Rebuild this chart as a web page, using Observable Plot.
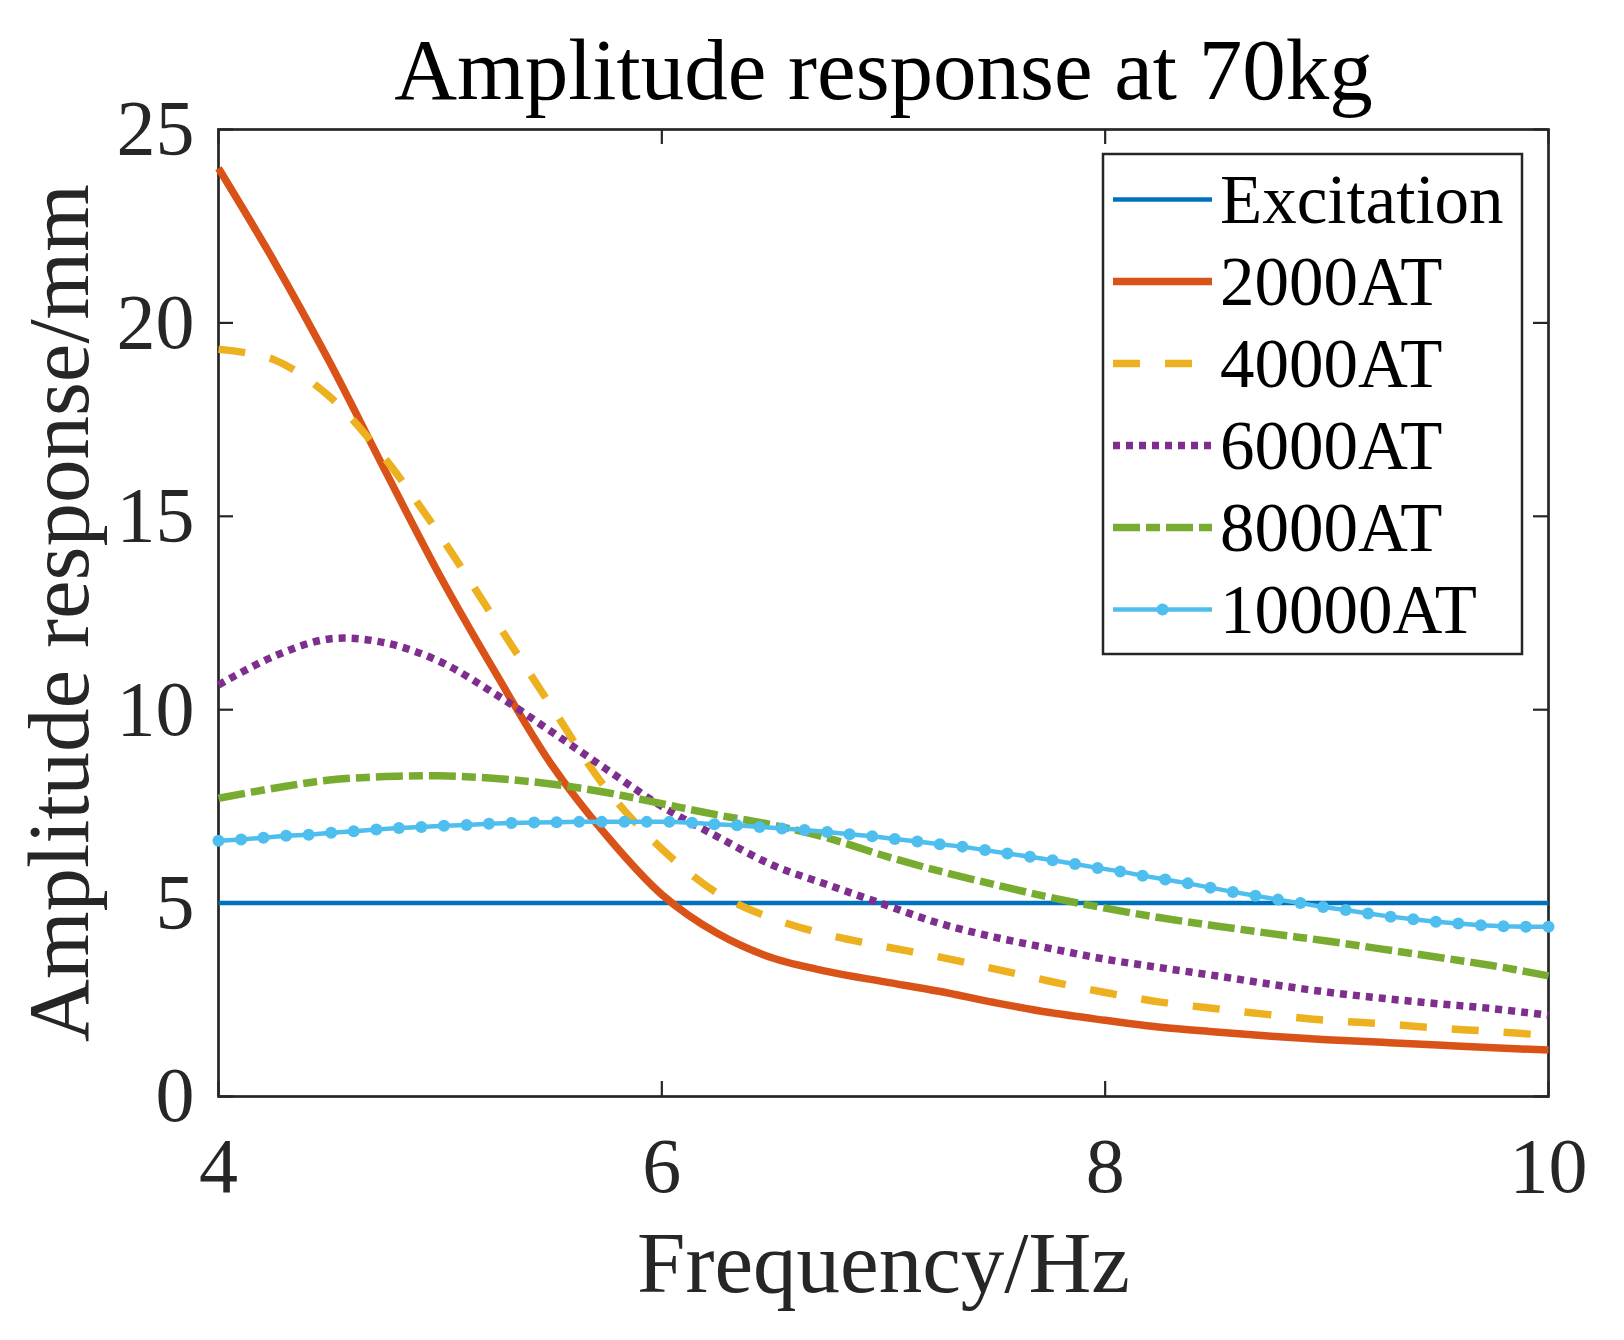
<!DOCTYPE html>
<html>
<head>
<meta charset="utf-8">
<script src="https://cdn.jsdelivr.net/npm/d3@7"></script>
<script src="https://cdn.jsdelivr.net/npm/@observablehq/plot@0.6"></script>
<style>
  body { margin: 0; background: #fff; }
  #chart svg { display: block; }
</style>
</head>
<body>
<div id="chart"></div>
<script>
// datos
const freqCoarse = [4, 4.25, 4.5, 4.75, 5, 5.25, 5.5, 5.75, 6, 6.25, 6.5, 6.75, 7, 7.25, 7.5, 7.75, 8, 8.25, 8.5, 8.75, 9, 9.25, 9.5, 9.75, 10];
const amp2000 = [24.0, 21.6, 19.0, 16.2, 13.45, 10.95, 8.6, 6.75, 5.22, 4.22, 3.58, 3.23, 2.97, 2.72, 2.43, 2.17, 1.97, 1.79, 1.67, 1.56, 1.47, 1.40, 1.33, 1.26, 1.2];
const amp4000 = [19.32, 19.05, 18.1, 16.5, 14.5, 12.3, 10.1, 7.95, 6.4, 5.26, 4.6, 4.18, 3.88, 3.61, 3.3, 2.98, 2.69, 2.44, 2.27, 2.11, 1.97, 1.88, 1.77, 1.68, 1.58];
const amp6000 = [10.64, 11.38, 11.83, 11.73, 11.24, 10.4, 9.44, 8.46, 7.5, 6.72, 5.98, 5.47, 4.97, 4.48, 4.12, 3.83, 3.55, 3.33, 3.12, 2.9, 2.7, 2.54, 2.4, 2.27, 2.1];
const amp8000 = [7.71, 7.97, 8.18, 8.27, 8.29, 8.22, 8.08, 7.86, 7.57, 7.28, 7.02, 6.68, 6.23, 5.83, 5.48, 5.15, 4.87, 4.62, 4.41, 4.21, 4.02, 3.81, 3.6, 3.38, 3.12];

// 10000AT con marcadores (60 puntos)
const freqFine = [
  4.000, 4.102, 4.203, 4.305, 4.407, 4.508, 4.610, 4.712, 4.814, 4.915,
  5.017, 5.119, 5.220, 5.322, 5.424, 5.525, 5.627, 5.729, 5.831, 5.932,
  6.034, 6.136, 6.237, 6.339, 6.441, 6.542, 6.644, 6.746, 6.847, 6.949,
  7.051, 7.153, 7.254, 7.356, 7.458, 7.559, 7.661, 7.763, 7.864, 7.966,
  8.068, 8.169, 8.271, 8.373, 8.475, 8.576, 8.678, 8.780, 8.881, 8.983,
  9.085, 9.186, 9.288, 9.390, 9.492, 9.593, 9.695, 9.797, 9.898, 10.000
];
const amp10000 = [
  6.61, 6.645, 6.69, 6.74, 6.77, 6.82, 6.86, 6.90, 6.94, 6.97,
  7.00, 7.02, 7.05, 7.07, 7.085, 7.09, 7.10, 7.10, 7.10, 7.10,
  7.10, 7.08, 7.04, 7.01, 6.97, 6.93, 6.89, 6.84, 6.78, 6.73,
  6.66, 6.59, 6.52, 6.46, 6.37, 6.28, 6.20, 6.11, 6.01, 5.91,
  5.82, 5.71, 5.61, 5.51, 5.40, 5.29, 5.19, 5.09, 5.00, 4.90,
  4.82, 4.73, 4.65, 4.58, 4.52, 4.47, 4.43, 4.40, 4.39, 4.39
];

const freqExc = [4, 10];
const ampExc = [5, 5];

const xTicks = [4, 6, 8, 10];
const yTicks = [0, 5, 10, 15, 20, 25];
const seriesNames = ["Excitation", "2000AT", "4000AT", "6000AT", "8000AT", "10000AT"];

const rows = (name, xs, ys) => xs.map((f, i) => ({series: name, f: f, a: ys[i]}));

const colors = {
  "Excitation": "#0072BD", "2000AT": "#D95319", "4000AT": "#EDB120",
  "6000AT": "#7E2F8E", "8000AT": "#77AC30", "10000AT": "#4DBEEE"
};
const dashes = {"4000AT": "27 25", "6000AT": "7 6", "8000AT": "27 6 14 6"};
const widths = {"Excitation": 4.5, "2000AT": 7.5, "4000AT": 7.5, "6000AT": 7.5, "8000AT": 7.5, "10000AT": 4.5};

const W = 1330, H = 967, tick = 15;
const serif = "'Liberation Serif', 'Times New Roman', serif";

const lineOf = (name, data, curve) => Plot.line(data, {
  x: "f", y: "a", stroke: colors[name], strokeWidth: widths[name],
  strokeDasharray: dashes[name], curve: curve,
  strokeLinecap: "butt", strokeLinejoin: "round"
});

let chart = Plot.plot({
  width: 1624,
  height: 1340,
  marginTop: 129,
  marginRight: 76,
  marginBottom: 244,
  marginLeft: 218,
  style: {fontFamily: serif, fontSize: "78px", color: "#262626", background: "#fff"},
  x: {domain: [4, 10], label: null},
  y: {domain: [0, 25], label: null},
  marks: [
    Plot.frame({stroke: "#262626", strokeWidth: 2.7}),
    Plot.tickX(xTicks, {x: d => d, insetTop: H - tick, stroke: "#262626", strokeWidth: 2.2}),
    Plot.tickX(xTicks, {x: d => d, insetBottom: H - tick, stroke: "#262626", strokeWidth: 2.2}),
    Plot.tickY(yTicks, {y: d => d, insetRight: W - tick, stroke: "#262626", strokeWidth: 2.2}),
    Plot.tickY(yTicks, {y: d => d, insetLeft: W - tick, stroke: "#262626", strokeWidth: 2.2}),
    Plot.axisX({ticks: xTicks, tickFormat: d => String(d), tickSize: 0, tickPadding: 40, label: null, fill: "#262626"}),
    Plot.axisY({ticks: yTicks, tickFormat: d => String(d), tickSize: 0, tickPadding: 24, label: null, fill: "#262626"}),
    lineOf("Excitation", rows("Excitation", freqExc, ampExc), "linear"),
    lineOf("2000AT", rows("2000AT", freqCoarse, amp2000), "catmull-rom"),
    lineOf("4000AT", rows("4000AT", freqCoarse, amp4000), "catmull-rom"),
    lineOf("6000AT", rows("6000AT", freqCoarse, amp6000), "catmull-rom"),
    lineOf("8000AT", rows("8000AT", freqCoarse, amp8000), "catmull-rom"),
    lineOf("10000AT", rows("10000AT", freqFine, amp10000), "linear"),
    Plot.dot(rows("10000AT", freqFine, amp10000), {x: "f", y: "a", r: 6, fill: colors["10000AT"]}),
    Plot.text(["Amplitude response at 70kg"], {frameAnchor: "top", dy: -58, lineAnchor: "middle", fontSize: 87, fill: "#000"}),
    Plot.text(["Frequency/Hz"], {frameAnchor: "bottom", dy: 168, lineAnchor: "middle", fontSize: 87, fill: "#262626"}),
    Plot.text(["Amplitude response/mm"], {frameAnchor: "left", dx: -158, rotate: -90, textAnchor: "middle", lineAnchor: "middle", fontSize: 87, fill: "#262626"})
  ]
});

// leyenda
const svg = d3.select(chart);
const lg = svg.append("g").attr("font-family", serif).attr("text-anchor", "start");
lg.append("rect")
  .attr("x", 1103).attr("y", 154).attr("width", 419).attr("height", 500)
  .attr("fill", "#fff").attr("stroke", "#262626").attr("stroke-width", 2.5);
seriesNames.forEach((name, i) => {
  const cy = 199.5 + i * 82;
  lg.append("line")
    .attr("x1", 1113).attr("x2", 1212).attr("y1", cy).attr("y2", cy)
    .attr("stroke", colors[name]).attr("stroke-width", widths[name])
    .attr("stroke-linecap", "butt")
    .attr("stroke-dasharray", dashes[name] || null);
  if (name === "10000AT") {
    lg.append("circle").attr("cx", 1162.5).attr("cy", cy).attr("r", 6).attr("fill", colors[name]);
  }
  lg.append("text")
    .attr("x", 1220).attr("y", cy + 23)
    .attr("font-size", 69).attr("fill", "#000")
    .text(name);
});

// Agregamos chart al div#chart
d3.select('#chart').append(() => chart);
</script>
</body>
</html>
